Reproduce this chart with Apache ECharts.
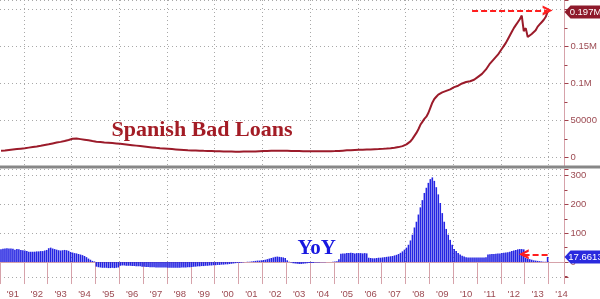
<!DOCTYPE html>
<html>
<head>
<meta charset="utf-8">
<script src="https://cdn.jsdelivr.net/npm/echarts@6/dist/echarts.min.js"></script>
<style>html,body{margin:0;padding:0;background:#fff}#c{width:600px;height:299px}</style>
</head>
<body>
<div id="c"></div>
<script>
const years = [1991,1992,1993,1994,1995,1996,1997,1998,1999,2000,2001,2002,2003,2004,2005,2006,2007,2008,2009,2010,2011,2012,2013,2014];
const yearLabels = ["'91","'92","'93","'94","'95","'96","'97","'98","'99","'00","'01","'02","'03","'04","'05","'06","'07","'08","'09","'10","'11","'12","'13","'14"];

// Spanish bad loans, monthly Jan 1991 - Dec 2013 (EUR mn)
const loans = [
  8800, 9000, 9300, 9600, 9900, 10200, 10500, 10800, 11100, 11400, 11700, 12000,
  12300, 12700, 13100, 13500, 13900, 14300, 14700, 15100, 15600, 16100, 16600, 17100,
  17600, 18200, 18800, 19400, 19900, 20400, 20900, 21500, 22100, 22800, 23500, 24300,
  25000, 25600, 25400, 25000, 24600, 24200, 23800, 23400, 23000, 22500, 22000, 21600,
  21200, 20900, 20600, 20300, 20000, 19800, 19600, 19400, 19200, 19000, 18800, 18500,
  18200, 17900, 17600, 17300, 17000, 16700, 16400, 16100, 15800, 15500, 15200, 14900,
  14600, 14300, 14000, 13700, 13400, 13100, 12800, 12500, 12300, 12100, 11900, 11700,
  11500, 11300, 11100, 10900, 10700, 10500, 10300, 10100, 9900, 9700, 9500, 9400,
  9300, 9200, 9100, 9000, 8900, 8800, 8700, 8600, 8600, 8500, 8500, 8400,
  8300, 8200, 8100, 8000, 7900, 7800, 7800, 7700, 7700, 7600, 7600, 7600,
  7600, 7600, 7700, 7700, 7800, 7800, 7900, 7900, 8000, 8100, 8200, 8300,
  8400, 8500, 8600, 8700, 8800, 8900, 9000, 9000, 9000, 8900, 8900, 8800,
  8700, 8600, 8500, 8500, 8400, 8400, 8400, 8300, 8300, 8300, 8300, 8300,
  8300, 8300, 8200, 8200, 8200, 8200, 8200, 8200, 8200, 8300, 8300, 8300,
  8400, 8500, 8600, 8800, 9000, 9200, 9400, 9600, 9700, 9800, 9900, 10000,
  10100, 10200, 10300, 10400, 10500, 10600, 10700, 10800, 10900, 11000, 11100, 11200,
  11400, 11600, 11800, 12000, 12300, 12600, 12900, 13300, 13800, 14400, 15100, 16200,
  17500, 19000, 21500, 25000, 29000, 33000, 38000, 44000, 48000, 52000, 55000, 60000,
  67000, 74000, 79000, 82000, 85000, 87000, 88000, 89000, 90000, 91000, 92000, 93000,
  95000, 96000, 97000, 99000, 100000, 101000, 102000, 102000, 103000, 104000, 105000, 107000,
  109000, 111000, 113000, 116000, 119000, 123000, 127000, 130000, 133000, 136000, 139000, 143000,
  147000, 151000, 155000, 160000, 165000, 170000, 175000, 179000, 183000, 187000, 192000, 171000,
  175000, 163000, 164000, 167000, 169000, 172000, 177000, 180000, 183000, 186000, 190000, 197000
];

// Year-on-year change, % (monthly)
const yoy = [
  44, 46, 47, 48, 47, 47, 46, 43, 45, 44, 42, 41,
  40, 38, 36, 36, 36, 36, 37, 37, 38, 38, 40, 42,
  48, 50, 47, 45, 43, 41, 40, 41, 42, 41, 39, 35,
  33, 31, 30, 28, 26, 24, 21, 17, 12, 8, 4, 2,
  -16, -18, -19, -20, -20, -20, -21, -21, -20, -21, -20, -19,
  -13, -12, -12, -13, -13, -13, -14, -14, -15, -15, -15, -16,
  -16, -17, -17, -18, -18, -18, -19, -19, -19, -19, -19, -19,
  -20, -20, -20, -20, -20, -20, -20, -19, -19, -19, -18, -18,
  -17, -16, -16, -15, -15, -14, -14, -13, -13, -12, -12, -11,
  -11, -10, -10, -9, -9, -8, -8, -7, -6, -5, -4, -3,
  -3, -2, -1, 0, 1, 1, 2, 3, 4, 5, 5, 6,
  7, 8, 10, 12, 14, 16, 18, 19, 18, 17, 16, 14,
  6, 1, -2, -4, -5, -6, -7, -7, -6, -5, -4, -3,
  -3, -3, -2, -2, -2, -1, -1, -1, 0, 0, 0, 1,
  2, 3, 10, 29, 30, 30, 31, 31, 32, 31, 30, 31,
  31, 31, 30, 31, 30, 15, 14, 13, 13, 14, 15, 15,
  16, 17, 18, 19, 20, 21, 23, 25, 28, 32, 37, 43,
  50, 60, 75, 95, 120, 140, 165, 190, 215, 240, 258, 275,
  288, 294, 282, 260, 235, 205, 170, 140, 115, 95, 77, 60,
  45, 38, 31, 26, 22, 19, 17, 16, 16, 16, 16, 16,
  16, 16, 16, 16, 17, 26, 27, 28, 28, 29, 30, 30,
  31, 32, 33, 34, 36, 38, 40, 42, 44, 45, 45, 44,
  14, 12, 10, 8, 6, 5, 4, 3, 2, 1, 1, 17.6613
];

const topTickValues = [0, 50000, 100000, 150000];
const topTickText = ['0', '50000', '0.1M', '0.15M'];
const bottomTickValues = [0, 100, 200, 300];
const bottomTickText = ['0', '100', '200', '300'];
const lastLoanLabel = '0.197M';
const lastYoyLabel = '17.6613';
const loanArrowMonths = ['2010-10', '2013-12'];
const loanArrowLevel = 199000;
const yoyArrowMonths = ['2013-12', '2012-12'];
const yoyArrowLevel = 27;

// monthly categories Jan 1991 .. Aug 2014 (axis runs a bit past the last data point)
const months = [];
years.forEach(function (y) { for (let m = 1; m <= 12; m++) months.push(y + '-' + (m < 10 ? '0' + m : '' + m)); });
const cats = months.slice(0, 284);

const FONT = '"Liberation Sans Narrow", "Liberation Sans", Arial, sans-serif';
const PINK = '#d6a2aa';
const LABEL = '#9c4a52';
const GRID = '#a8a8a8';
const LINE = '#9b1b2a';
const BLUE = '#2424e2';
const chevron = 'path://M0,10 L5,0 L10,10 L7.4,10 L5,4.6 L2.6,10 Z';
const tagPath = 'path://M0,6.5 L6,0 L36,0 L36,13 L6,13 Z';

function xAxisFor(gridIndex, showLabels) {
  return {
    type: 'category', gridIndex: gridIndex, data: cats, boundaryGap: true,
    axisLine: { show: showLabels, lineStyle: { color: PINK, width: 1 } },
    axisTick: { show: showLabels, interval: function (i) { return i % 12 === 0; }, length: 22, lineStyle: { color: PINK } },
    axisLabel: {
      show: showLabels,
      interval: function (i) { return i % 12 === 6; },
      formatter: function (v) { return yearLabels[years.indexOf(+String(v).slice(0, 4))]; },
      color: LABEL, fontSize: 9.5, fontFamily: FONT, margin: 12
    },
    splitLine: { show: true, interval: function (i) { return i % 24 === 12; }, lineStyle: { color: GRID, type: [1, 3], width: 1 } }
  };
}

function yAxisFor(gridIndex, min, max, vals, texts) {
  return {
    type: 'value', gridIndex: gridIndex, position: 'right', min: min, max: max, splitNumber: 5,
    axisLine: { show: true, lineStyle: { color: PINK, width: 1 } },
    axisTick: { show: true, length: 4, lineStyle: { color: '#a0424c' } },
    minorTick: { show: true, splitNumber: 2, length: 3, lineStyle: { color: '#a0424c' } },
    axisLabel: {
      color: LABEL, fontSize: 9.5, fontFamily: FONT, margin: 6,
      formatter: function (v) { const k = vals.indexOf(v); return k >= 0 ? texts[k] : ''; }
    },
    splitLine: { show: true, lineStyle: { color: GRID, type: [1, 3], width: 1 } }
  };
}

function arrowLine(months2, level) {
  return {
    silent: true, symbol: ['none', chevron], symbolSize: 10,
    lineStyle: { color: '#ff1e1e', width: 2, type: [6, 3] },
    label: { show: false },
    emphasis: { disabled: true },
    data: [[{ coord: [months2[0], level] }, { coord: [months2[1], level] }]]
  };
}

function tag(text, color, coord) {
  return {
    silent: true, symbol: tagPath, symbolSize: [36, 13], symbolOffset: [19, 0],
    itemStyle: { color: color },
    label: { show: true, position: 'inside', offset: [3, 0], formatter: text, color: '#ffffff', fontSize: 9.5, fontFamily: FONT },
    data: [{ coord: coord }]
  };
}

const chart = echarts.init(document.getElementById('c'), null, { renderer: 'canvas' });
chart.setOption({
  animation: false,
  backgroundColor: '#ffffff',
  grid: [
    { left: 0, top: 0, width: 564.5, height: 166 },
    { left: 0, top: 169, width: 564.5, height: 108.3 }
  ],
  xAxis: [xAxisFor(0, false), xAxisFor(1, true)],
  yAxis: [
    yAxisFor(0, -11800, 213100, topTickValues, topTickText),
    yAxisFor(1, -52, 323.2, bottomTickValues, bottomTickText)
  ],
  series: [
    {
      type: 'line', xAxisIndex: 0, yAxisIndex: 0, data: loans,
      showSymbol: false, symbol: 'none',
      lineStyle: { color: LINE, width: 2 }, itemStyle: { color: LINE },
      markPoint: tag(lastLoanLabel, '#8e1a2b', [cats.length - 1, loans[loans.length - 1]]),
      markLine: arrowLine(loanArrowMonths, loanArrowLevel)
    },
    {
      type: 'bar', xAxisIndex: 1, yAxisIndex: 1, data: yoy,
      barWidth: '80%', itemStyle: { color: BLUE },
      markPoint: tag(lastYoyLabel, '#2a2ade', [cats.length - 1, yoy[yoy.length - 1]]),
      markLine: arrowLine(yoyArrowMonths, yoyArrowLevel)
    }
  ],
  graphic: [
    { type: 'rect', shape: { x: 0, y: 165.5, width: 600, height: 3 }, style: { fill: '#878787' }, z: 100 },
    { type: 'text', x: 111.5, y: 130, style: { text: 'Spanish Bad Loans', font: 'bold 22px "Liberation Serif", "Times New Roman", serif', fill: '#a31c25', verticalAlign: 'middle', align: 'left' }, z: 100 },
    { type: 'text', x: 297.5, y: 248.6, style: { text: 'YoY', font: 'bold 21px "Liberation Serif", "Times New Roman", serif', fill: '#1818e0', verticalAlign: 'middle', align: 'left' }, z: 100 }
  ]
});
</script>
</body>
</html>
